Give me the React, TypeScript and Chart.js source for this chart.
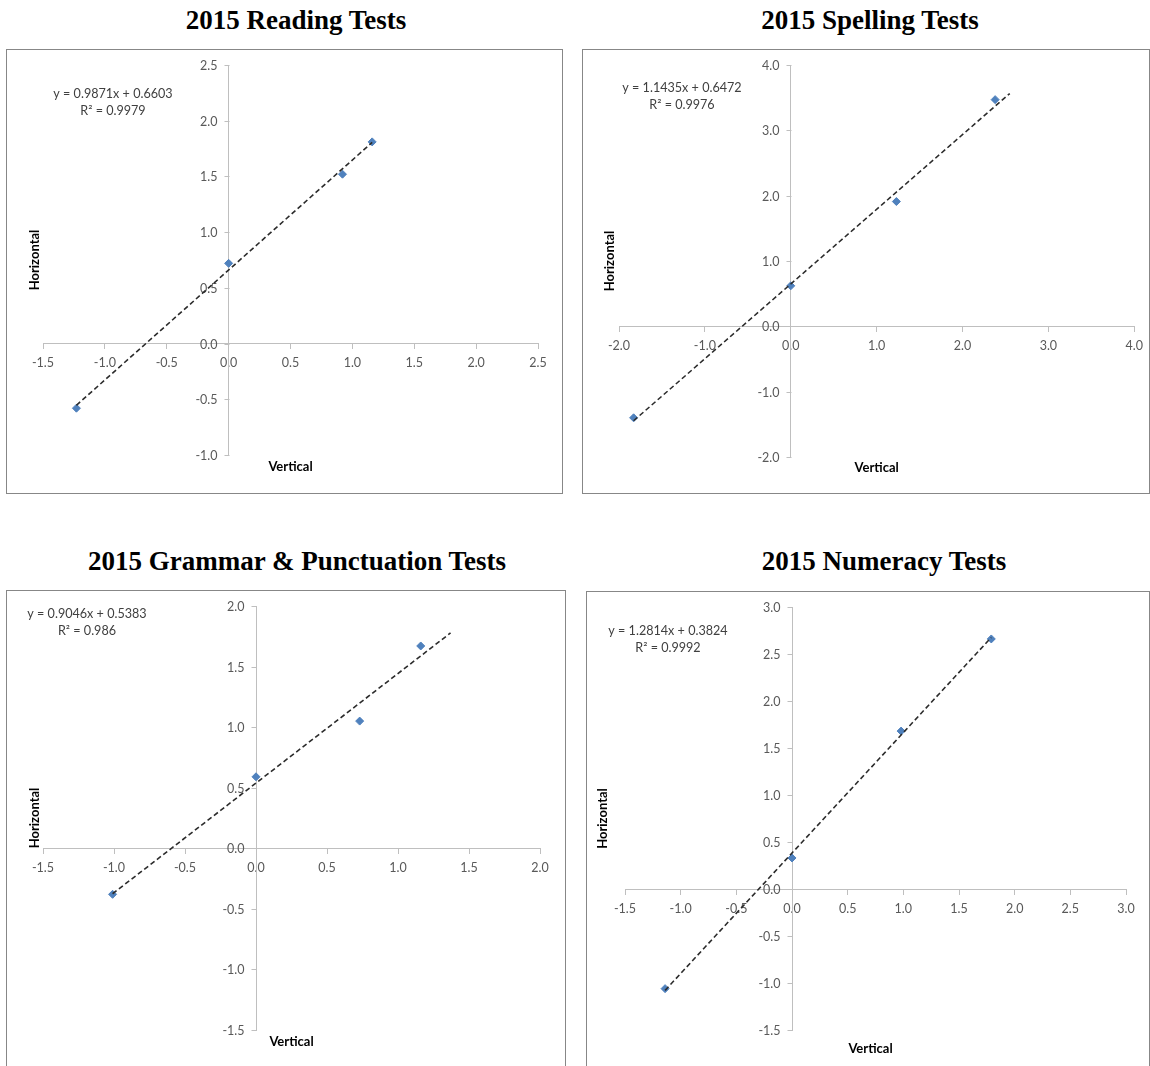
import React, { useEffect, useRef } from "react";
import { Chart, registerables } from "chart.js";

Chart.register(...registerables);

// ---------- data ----------
const chartTitles = [
  "2015 Reading Tests",
  "2015 Spelling Tests",
  "2015 Grammar & Punctuation Tests",
  "2015 Numeracy Tests",
];

const readingX = [-1.23, 0.0, 0.92, 1.16];
const readingY = [-0.58, 0.72, 1.52, 1.81];
const spellingX = [-1.83, 0.0, 1.23, 2.38];
const spellingY = [-1.4, 0.62, 1.91, 3.47];
const grammarX = [-1.01, 0.0, 0.73, 1.16];
const grammarY = [-0.38, 0.59, 1.05, 1.67];
const numeracyX = [-1.14, 0.0, 0.98, 1.79];
const numeracyY = [-1.06, 0.33, 1.68, 2.66];

const seriesX = [readingX, spellingX, grammarX, numeracyX];
const seriesY = [readingY, spellingY, grammarY, numeracyY];

const slopes = [0.9871, 1.1435, 0.9046, 1.2814];
const intercepts = [0.6603, 0.6472, 0.5383, 0.3824];
const slopeLabels = ["0.9871", "1.1435", "0.9046", "1.2814"];
const interceptLabels = ["0.6603", "0.6472", "0.5383", "0.3824"];
const rSquaredLabels = ["0.9979", "0.9976", "0.986", "0.9992"];
const trendFrom = [-1.23, -1.83, -1.01, -1.14];
const trendTo = [1.16, 2.55, 1.37, 1.79];

const xMins = [-1.5, -2, -1.5, -1.5];
const xMaxs = [2.5, 4, 2, 3];
const xSteps = [0.5, 1, 0.5, 0.5];
const yMins = [-1, -2, -1.5, -1.5];
const yMaxs = [2.5, 4, 2, 3];
const ySteps = [0.5, 1, 0.5, 0.5];

const xAxisTitle = "Vertical";
const yAxisTitle = "Horizontal";

// ---------- layout (positions / sizes only) ----------
const frames = [
  { left: 6, top: 49, width: 557, height: 445, pad: { left: 37, top: 16, right: 25, bottom: 39 }, eq: { x: 113 - 6, y: 94 - 49 }, yTitleDx: -8, xTitleDy: 12, xTitleDx: 0 },
  { left: 582, top: 49, width: 568, height: 445, pad: { left: 37, top: 16, right: 14, bottom: 37 }, eq: { x: 682 - 582, y: 88 - 49 }, yTitleDx: -9, xTitleDy: 11, xTitleDx: 0 },
  { left: 6, top: 590, width: 560, height: 480, pad: { left: 37, top: 16, right: 26, bottom: 40 }, eq: { x: 87 - 6, y: 614 - 590 }, yTitleDx: -8, xTitleDy: 12, xTitleDx: 0 },
  { left: 586, top: 591, width: 564, height: 479, pad: { left: 39, top: 16, right: 24, bottom: 40 }, eq: { x: 668 - 586, y: 631 - 591 }, yTitleDx: -22, xTitleDy: 19, xTitleDx: -5 },
];
const titleCenters = [
  { x: 296, y: 20 },
  { x: 870, y: 20 },
  { x: 297, y: 561 },
  { x: 884, y: 561 },
];

const FONT_FAMILY = "Lato, 'Open Sans', sans-serif";
const TICK_FONT = { family: FONT_FAMILY, size: 12.5 };
const AXIS_COLOR = "#bfbfbf";
const TICK_COLOR = "#595959";

function fmt(v: number) {
  return Number(v).toFixed(1);
}

function ScatterPanel({ idx }: { idx: number }) {
  const ref = useRef<HTMLCanvasElement | null>(null);
  const f = frames[idx];

  useEffect(() => {
    if (!ref.current) return;
    const pts = seriesX[idx].map((x, i) => ({ x, y: seriesY[idx][i] }));
    const m = slopes[idx];
    const b = intercepts[idx];
    const trend = [
      { x: trendFrom[idx], y: m * trendFrom[idx] + b },
      { x: trendTo[idx], y: m * trendTo[idx] + b },
    ];

    const decor = {
      id: "decor" + idx,
      beforeDraw(chart: any) {
        const ctx = chart.ctx;
        ctx.save();
        ctx.fillStyle = "#ffffff";
        ctx.fillRect(0, 0, chart.width, chart.height);
        ctx.strokeStyle = "#878787";
        ctx.lineWidth = 1;
        ctx.strokeRect(0.5, 0.5, chart.width - 1, chart.height - 1);
        ctx.restore();
      },
      beforeDatasetsDraw(chart: any) {
        // vertical axis tick marks + labels, placed left of the axis crossing x = 0
        const ctx = chart.ctx;
        const ys = chart.scales.y;
        const ax = Math.round(chart.scales.x.getPixelForValue(0)) + 0.5;
        ctx.save();
        ctx.strokeStyle = AXIS_COLOR;
        ctx.lineWidth = 1;
        ctx.fillStyle = TICK_COLOR;
        ctx.font = `${TICK_FONT.size}px ${FONT_FAMILY}`;
        ctx.textAlign = "right";
        ctx.textBaseline = "middle";
        ys.ticks.forEach((t: any) => {
          const py = Math.round(ys.getPixelForValue(t.value)) + 0.5;
          ctx.beginPath();
          ctx.moveTo(ax - 5, py);
          ctx.lineTo(ax, py);
          ctx.stroke();
          ctx.fillText(fmt(t.value), ax - 12, py);
        });
        ctx.restore();
      },
      afterDraw(chart: any) {
        const ctx = chart.ctx;
        const ca = chart.chartArea;
        ctx.save();
        // trendline equation
        ctx.fillStyle = "#404040";
        ctx.font = `12.6px ${FONT_FAMILY}`;
        ctx.textAlign = "center";
        ctx.textBaseline = "middle";
        ctx.fillText(`y = ${slopeLabels[idx]}x + ${interceptLabels[idx]}`, f.eq.x, f.eq.y);
        ctx.fillText(`R\u00B2 = ${rSquaredLabels[idx]}`, f.eq.x, f.eq.y + 17);
        // axis titles
        ctx.fillStyle = "#000000";
        ctx.font = `bold 13px ${FONT_FAMILY}`;
        ctx.fillText(xAxisTitle, (ca.left + ca.right) / 2 + f.xTitleDx, ca.bottom + f.xTitleDy);
        ctx.translate(ca.left + f.yTitleDx, (ca.top + ca.bottom) / 2);
        ctx.rotate(-Math.PI / 2);
        ctx.fillText(yAxisTitle, 0, 0);
        ctx.restore();
      },
    };

    const chart = new Chart(ref.current, {
      type: "scatter",
      data: {
        datasets: [
          {
            data: trend,
            showLine: true,
            borderColor: "#2b2b2b",
            borderWidth: 1.6,
            borderDash: [5, 3],
            pointRadius: 0,
            order: 0,
          } as any,
          {
            data: pts,
            pointStyle: "rectRot",
            pointRadius: 4,
            backgroundColor: "#4f81bd",
            borderColor: "#4f81bd",
            borderWidth: 1,
            order: 1,
          } as any,
        ],
      },
      options: {
        responsive: false,
        animation: false,
        devicePixelRatio: 1,
        layout: { padding: f.pad },
        plugins: {
          legend: { display: false },
          tooltip: { enabled: false },
          title: { display: false },
        },
        scales: {
          x: {
            type: "linear",
            min: xMins[idx],
            max: xMaxs[idx],
            position: { y: 0 } as any,
            ticks: {
              stepSize: xSteps[idx],
              callback: (v: any) => fmt(v),
              color: TICK_COLOR,
              font: TICK_FONT,
              padding: 7,
              autoSkip: false,
              maxRotation: 0,
            },
            grid: { drawOnChartArea: false, drawTicks: true, tickLength: 5, color: AXIS_COLOR },
            border: { display: true, color: AXIS_COLOR, width: 1 },
          },
          y: {
            type: "linear",
            min: yMins[idx],
            max: yMaxs[idx],
            position: { x: 0 } as any,
            ticks: {
              stepSize: ySteps[idx],
              display: false,
              autoSkip: false,
            },
            grid: { drawOnChartArea: false, drawTicks: false, color: AXIS_COLOR },
            border: { display: true, color: AXIS_COLOR, width: 1 },
          },
        },
      },
      plugins: [decor],
    });
    return () => chart.destroy();
  }, [idx]);

  return (
    <canvas
      ref={ref}
      width={f.width}
      height={f.height}
      style={{ position: "absolute", left: f.left, top: f.top, width: f.width, height: f.height }}
    />
  );
}

export default function App() {
  return (
    <div
      style={{
        position: "absolute",
        left: 0,
        top: 0,
        width: 1150,
        height: 1066,
        overflow: "hidden",
        background: "#ffffff",
      }}
    >
      {chartTitles.map((t, i) => (
        <div
          key={"t" + i}
          style={{
            position: "absolute",
            left: titleCenters[i].x - 300,
            top: titleCenters[i].y - 16,
            width: 600,
            height: 32,
            lineHeight: "32px",
            textAlign: "center",
            fontFamily: "'Liberation Serif', 'Times New Roman', serif",
            fontWeight: "bold",
            fontSize: 27,
            color: "#000",
            whiteSpace: "nowrap",
          }}
        >
          {t}
        </div>
      ))}
      {frames.map((_, i) => (
        <ScatterPanel key={i} idx={i} />
      ))}
    </div>
  );
}
